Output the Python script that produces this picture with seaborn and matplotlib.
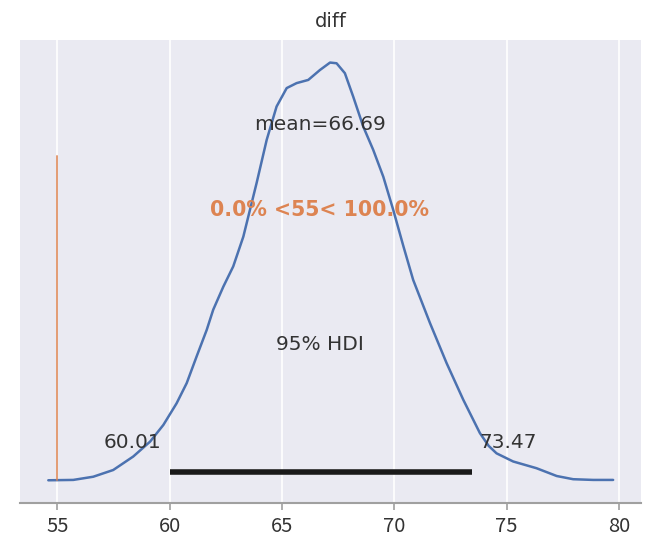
import matplotlib
matplotlib.use("Agg")
import matplotlib.pyplot as plt
import seaborn as sns

kde_x = [54.60, 55.71, 56.60, 57.49, 58.38, 59.13, 59.72, 60.31, 60.76, 61.20,
         61.65, 61.94, 62.39, 62.83, 63.28, 63.87, 64.32, 64.76, 65.21, 65.65,
         66.17, 66.69, 67.14, 67.43, 67.80, 68.17, 68.62, 69.06, 69.51, 69.95,
         70.40, 70.84, 71.59, 72.33, 73.07, 73.81, 74.20, 74.55, 75.29, 76.33,
         77.23, 77.96, 78.85, 79.74]
kde_y = [0.0000, 0.0001, 0.0010, 0.0029, 0.0067, 0.0109, 0.0156, 0.0217, 0.0274, 0.0349,
         0.0424, 0.0481, 0.0546, 0.0603, 0.0687, 0.0838, 0.0960, 0.1054, 0.1106, 0.1120,
         0.1129, 0.1157, 0.1178, 0.1176, 0.1148, 0.1082, 0.0997, 0.0932, 0.0856, 0.0763,
         0.0661, 0.0565, 0.0443, 0.0330, 0.0227, 0.0133, 0.0097, 0.0076, 0.0053, 0.0034,
         0.0012, 0.0003, 0.0001, 0.0001]
hdi = [60.01, 73.47]
mean_val = 66.69
ref_val = 55
ref_pct = [0.0, 100.0]
x_ticks = [55, 60, 65, 70, 75, 80]

blue = "#4c72b0"
orange = "#dd8452"
text_col = "#333333"

sns.set_theme(style="darkgrid")
plt.rcParams["font.family"] = ["DejaVu Sans"]
tick_font = ["Noto Sans CJK JP", "DejaVu Sans"]

fig = plt.figure(figsize=(6.7, 5.43), dpi=100)
ax = fig.add_axes([20 / 670, 1 - 503 / 543, 621 / 670, 463 / 543])

sns.lineplot(x=kde_x, y=kde_y, ax=ax, color=blue, lw=1.8, sort=False, estimator=None)

peak = max(kde_y)

# hdi bar and labels
ax.plot(hdi, [peak * 0.02, peak * 0.02], color="k", lw=4, solid_capstyle="butt")
ax.annotate(f"{hdi[0]:.2f}", xy=(hdi[0], peak * 0.09), xytext=(-6, 0),
            textcoords="offset points", ha="right", va="center", fontsize=14.5, color=text_col)
ax.annotate(f"{hdi[1]:.2f}", xy=(hdi[1], peak * 0.09), xytext=(5, 0),
            textcoords="offset points", ha="left", va="center", fontsize=14.5, color=text_col)
ax.text(mean_val, peak * 0.326, "95% HDI", ha="center", va="center", fontsize=14.5, color=text_col)

# mean
ax.text(mean_val, peak * 0.852, f"mean={mean_val:.2f}", ha="center", va="center",
        fontsize=14.5, color=text_col)

# reference value
ax.axvline(ref_val, ymin=0.05, ymax=0.75, color=orange, lw=1.4, alpha=0.8)
ax.text(mean_val, peak * 0.647, f"{ref_pct[0]:.1f}% <{ref_val}< {ref_pct[1]:.1f}%",
        ha="center", va="center", fontsize=14.8, fontweight="bold", color=orange)

ax.set_xlim(53.34, 80.98)
ax.set_ylim(-peak * 0.0544, peak * 1.054)
ax.set_xticks(x_ticks)
ax.set_yticks([])
ax.grid(axis="y", visible=False)
ax.grid(axis="x", color="white", lw=1.2)

for side in ["left", "right", "top"]:
    ax.spines[side].set_visible(False)
ax.spines["bottom"].set_visible(True)
ax.spines["bottom"].set_color("#a0a0a0")
ax.spines["bottom"].set_linewidth(1.5)
ax.tick_params(axis="x", bottom=True, length=5, width=1.2, color="#a0a0a0",
               labelsize=14.5, labelcolor=text_col, pad=4)
for lab in ax.get_xticklabels():
    lab.set_family(tick_font)

ax.set_title("diff", fontsize=14, color=text_col, pad=9)

fig.savefig("out.png", dpi=100)
